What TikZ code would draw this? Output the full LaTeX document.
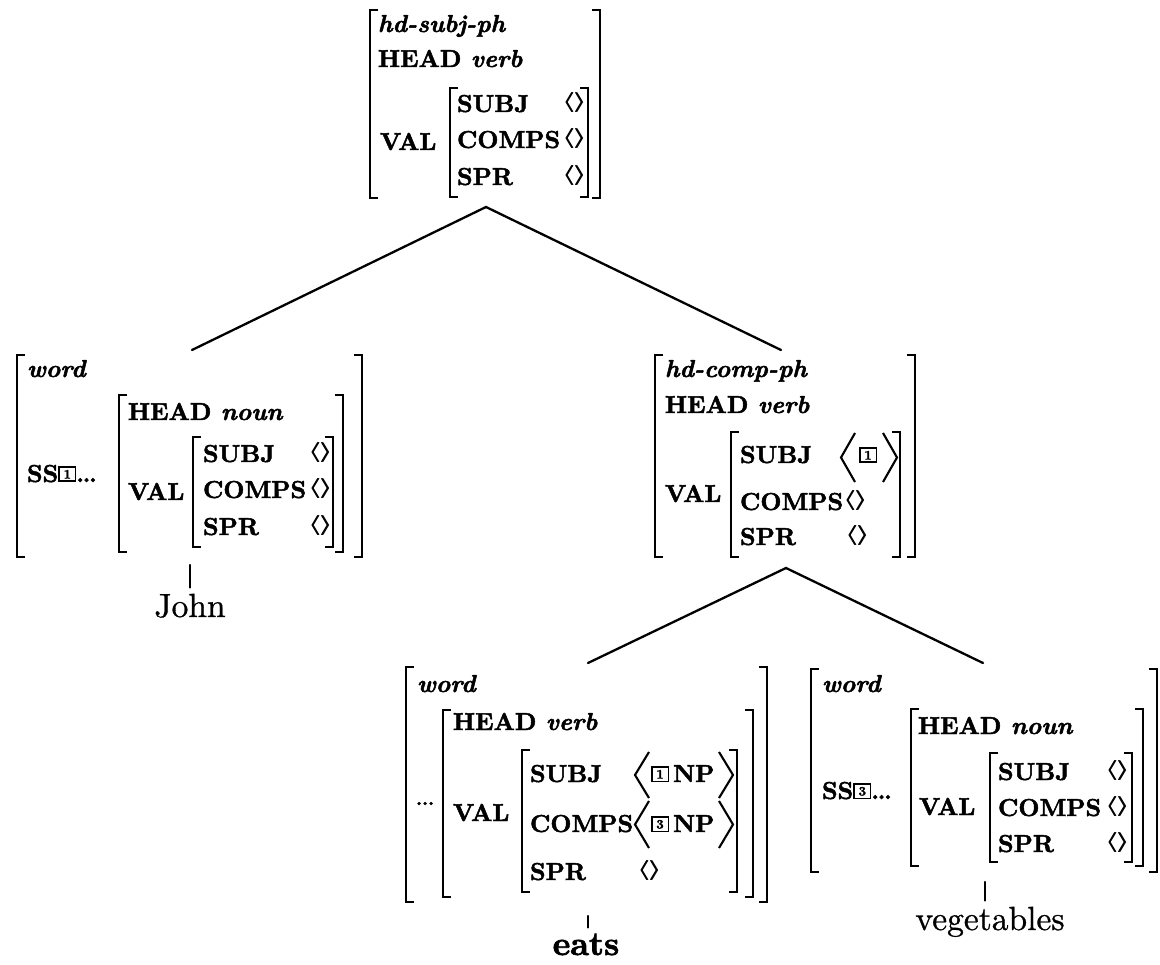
\documentclass[tikz,border=0pt]{standalone}
\usepackage{graphicx}
\usepackage{fontspec}
\setmainfont{lmroman10}[
  Extension=.otf,
  UprightFont=*-regular, BoldFont=*-bold,
  ItalicFont=*-italic, BoldItalicFont=*-bolditalic,
  UprightFeatures={FakeBold=0.8},
  BoldFeatures={FakeBold=2},
  BoldItalicFeatures={FakeBold=2}]

% feature-structure fonts
\newcommand\avmfont{\fontsize{24.5}{29}\selectfont\bfseries}
\newcommand\leaffont{\fontsize{33.5}{38}\selectfont}
% heavier single angle bracket, sitting on the baseline
\newcommand\heavyangle[1]{\raisebox{\depth}{\scalebox{1.25}[0.8]{%
  \rlap{$#1$}\rlap{\kern0.5pt$#1$}\kern1pt$#1$}}}
% empty list
\newcommand\emptylist{\heavyangle\langle\kern-2pt\heavyangle\rangle}
% boxed structure-sharing tag
\newcommand\tagbox[1]{{\setlength\fboxsep{2pt}\setlength\fboxrule{1.5pt}%
  \raisebox{3.5pt}{\fbox{\makebox[11pt]{\fontsize{13}{13}\selectfont\bfseries #1}}}}}
% small raised dots
\newcommand\middots{\raisebox{7pt}{\fontsize{19}{19}\selectfont\bfseries...}}

\tikzset{
  avm/.style={font=\avmfont, anchor=base west, inner sep=0pt, outer sep=0pt},
  typ/.style={avm, font=\avmfont\itshape},
  leaf/.style={font=\leaffont, anchor=base, inner sep=0pt},
  brk/.style={line width=2.6pt, line cap=butt, line join=miter},
  ang/.style={line width=2.1pt, line join=miter, line cap=butt},
  branch/.style={line width=2.3pt, line cap=round},
}
% left and right square brackets: x, top y, bottom y
\newcommand\lbr[3]{\draw[brk] (#1+8,#2) -- (#1,#2) -- (#1,#3) -- (#1+8,#3);}
\newcommand\rbr[3]{\draw[brk] (#1-8,#2) -- (#1,#2) -- (#1,#3) -- (#1-8,#3);}
% tall angle brackets: left x, right x, top y, bottom y
\newcommand\bigangles[4]{%
  \draw[ang] (#1+14,#3) -- (#1,{(#3+#4)/2}) -- (#1+14,#4);
  \draw[ang] (#2-14,#3) -- (#2,{(#3+#4)/2}) -- (#2-14,#4);}

\begin{document}
\begin{tikzpicture}[x=1pt,y=-1pt]
\useasboundingbox (0,0) rectangle (1160,965);

% ---------- hd-subj-ph ----------
\lbr{370}{10}{198}
\node[typ] (s-type) at (378,32) {hd-subj-ph};
\node[avm] (s-head) at (378,67) {HEAD \textit{verb}};
\node[avm] (s-val) at (380,150) {VAL};
\lbr{450}{88}{197}
\node[avm] (s-subj) at (457,112) {SUBJ};
\node[avm] (s-comps) at (457,148) {COMPS};
\node[avm] (s-spr) at (457,185) {SPR};
\node[avm] (s-subjv) at (562,112) {\emptylist};
\node[avm] (s-compsv) at (562,148) {\emptylist};
\node[avm] (s-sprv) at (562,185) {\emptylist};
\rbr{588}{88}{197}
\rbr{600}{10}{198}
\coordinate (s-foot) at (486,207);

% ---------- word: John ----------
\lbr{17}{355}{557}
\node[typ] (w-type) at (27,377) {word};
\node[avm] (w-ss) at (27,482) {SS\tagbox{1}\ldots};
\lbr{119}{395}{552}
\node[avm] (w-head) at (128,420) {HEAD \textit{noun}};
\node[avm] (w-val) at (128,500) {VAL};
\lbr{193}{437}{547}
\node[avm] (w-subj) at (203,462) {SUBJ};
\node[avm] (w-comps) at (203,498) {COMPS};
\node[avm] (w-spr) at (203,535) {SPR};
\node[avm] (w-subjv) at (308,462) {\emptylist};
\node[avm] (w-compsv) at (308,498) {\emptylist};
\node[avm] (w-sprv) at (308,535) {\emptylist};
\rbr{333}{437}{547}
\rbr{343}{395}{552}
\rbr{362}{355}{557}
\coordinate (w-top) at (192,350);
\coordinate (w-foot) at (190,565);
\node[leaf] (john) at (190,617) {John};

% ---------- hd-comp-ph ----------
\lbr{655}{355}{557}
\node[typ] (p-type) at (665,377) {hd-comp-ph};
\node[avm] (p-head) at (665,413) {HEAD \textit{verb}};
\node[avm] (p-val) at (665,502) {VAL};
\lbr{731}{432}{557}
\node[avm] (p-subj) at (740,463) {SUBJ};
\node[avm] (p-comps) at (740,510) {COMPS};
\node[avm] (p-spr) at (740,545) {SPR};
\bigangles{841}{897}{433}{482}
\node[avm] (p-subjv) at (859,463) {\tagbox{1}};
\node[avm] (p-compsv) at (843,510) {\emptylist};
\node[avm] (p-sprv) at (845,545) {\emptylist};
\rbr{900}{432}{557}
\rbr{915}{355}{557}
\coordinate (p-top) at (781,350);
\coordinate (p-foot) at (786,568);

% ---------- word: eats ----------
\lbr{406}{667}{902}
\node[typ] (v-type) at (417,692) {word};
\node[avm] (v-dots) at (416,812) {\middots};
\lbr{443}{710}{897}
\node[avm] (v-head) at (453,730) {HEAD \textit{verb}};
\node[avm] (v-val) at (453,821) {VAL};
\lbr{522}{750}{892}
\node[avm] (v-subj) at (530,782) {SUBJ};
\node[avm] (v-comps) at (530,832) {COMPS};
\node[avm] (v-spr) at (530,880) {SPR};
\bigangles{635}{733}{752}{798}
\node[avm] (v-subjv) at (651,782) {\tagbox{1}\,NP};
\bigangles{635}{733}{801}{848}
\node[avm] (v-compsv) at (651,832) {\tagbox{3}\,NP};
\node[avm] (v-sprv) at (637,880) {\emptylist};
\rbr{737}{750}{892}
\rbr{753}{710}{897}
\rbr{767}{667}{902}
\coordinate (v-top) at (588,663);
\coordinate (v-foot) at (588,916);
\node[leaf, font=\leaffont\bfseries] (eats) at (586,955) {eats};

% ---------- word: vegetables ----------
\lbr{811}{669}{872}
\node[typ] (o-type) at (822,692) {word};
\node[avm] (o-ss) at (822,799) {SS\tagbox{3}\ldots};
\lbr{911}{709}{866}
\node[avm] (o-head) at (918,734) {HEAD \textit{noun}};
\node[avm] (o-val) at (919,815) {VAL};
\lbr{990}{753}{862}
\node[avm] (o-subj) at (998,780) {SUBJ};
\node[avm] (o-comps) at (998,816) {COMPS};
\node[avm] (o-spr) at (998,852) {SPR};
\node[avm] (o-subjv) at (1105,780) {\emptylist};
\node[avm] (o-compsv) at (1105,816) {\emptylist};
\node[avm] (o-sprv) at (1105,852) {\emptylist};
\rbr{1132}{753}{862}
\rbr{1143}{709}{866}
\rbr{1157}{669}{872}
\coordinate (o-top) at (983,663);
\coordinate (o-foot) at (985,882);
\node[leaf] (veg) at (990,930) {vegetables};

% ---------- branches ----------
\draw[branch] (w-top) -- (s-foot) -- (p-top);
\draw[branch] (v-top) -- (p-foot) -- (o-top);
\draw[branch, shorten >=6pt] (w-foot) -- (w-foot |- john.north);
\draw[branch, shorten >=6pt] (v-foot) -- (v-foot |- eats.north);
\draw[branch, shorten >=6pt] (o-foot) -- (o-foot |- veg.north);
\end{tikzpicture}
\end{document}
